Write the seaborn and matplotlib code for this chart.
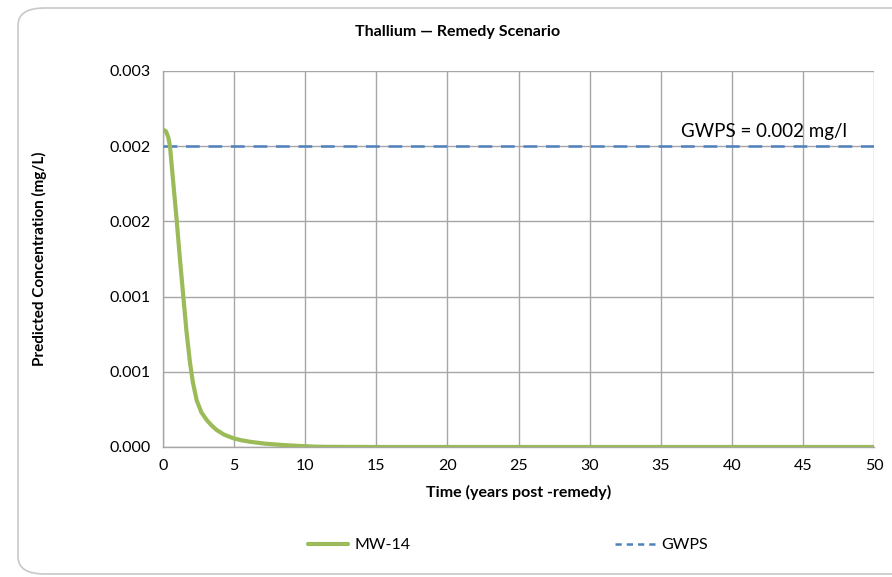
import matplotlib
matplotlib.use("Agg")
import matplotlib.pyplot as plt
import seaborn as sns
import pandas as pd
from matplotlib.patches import FancyBboxPatch
from matplotlib.lines import Line2D

# Data
years = [0.0, 0.2, 0.37, 0.49, 0.7, 0.96, 1.2, 1.43, 1.65, 1.9, 2.1, 2.37, 2.7, 3.07, 3.4, 3.77,
         4.3, 4.95, 5.5, 6.1, 7.2, 8.46, 9.6, 10.8, 11.5, 15, 20, 25, 30, 35, 40, 45, 50]
mw14 = [0.00211, 0.00210, 0.00206, 0.00200, 0.00178, 0.00151, 0.00124, 0.00100, 0.00077, 0.00056,
        0.00043, 0.00031, 0.00023, 0.00018, 0.000145, 0.000113, 0.000082, 0.000058, 0.000045,
        0.000035, 0.000022, 0.000013, 0.000007, 0.000002, 0.000001, 0.0, 0.0, 0.0, 0.0, 0.0, 0.0, 0.0, 0.0]
gwps_x = [0, 50]
gwps_y = [0.002, 0.002]
x_ticks = [0, 5, 10, 15, 20, 25, 30, 35, 40, 45, 50]
y_ticks = [0.0, 0.0005, 0.001, 0.0015, 0.002, 0.0025]
y_tick_labels = ["0.000", "0.001", "0.001", "0.002", "0.002", "0.003"]

sns.set_style("white")
plt.rcParams['font.family'] = ['Lato', 'DejaVu Sans']
plt.rcParams['text.color'] = 'black'
plt.rcParams['axes.labelcolor'] = 'black'
plt.rcParams['xtick.color'] = 'black'
plt.rcParams['ytick.color'] = 'black'

fig = plt.figure(figsize=(8.92, 5.77), dpi=100)
ax = fig.add_axes([163/892, 1 - 447/577, (874 - 163)/892, (447 - 71)/577])

# Rounded outer frame
frame = FancyBboxPatch((18/892, 3/577), 1.2, 1 - 11/577,
                       boxstyle="round,pad=0,rounding_size=0.03",
                       transform=fig.transFigure, fill=False,
                       edgecolor="#c8c8c8", linewidth=1.2, zorder=0)
fig.patches.append(frame)

green = "#9bbb59"
blue = "#4f81bd"

df_mw = pd.DataFrame({"t": years, "c": mw14})
df_g = pd.DataFrame({"t": gwps_x, "c": gwps_y})
sns.lineplot(data=df_mw, x="t", y="c", ax=ax, color=green, linewidth=3, zorder=4)
sns.lineplot(data=df_g, x="t", y="c", ax=ax, color=blue, linewidth=1.8,
             linestyle=(0, (5.5, 3.5)), zorder=3)

ax.set_xlim(0, 50)
ax.set_ylim(0, 0.0025)
ax.set_xticks(x_ticks)
ax.set_xticklabels([str(v) for v in x_ticks], fontsize=11.5)
ax.set_yticks(y_ticks)
ax.set_yticklabels(y_tick_labels, fontsize=11.5)
ax.grid(True, color="#a6a6a6", linewidth=1)
ax.set_axisbelow(True)
for s in ["top", "right"]:
    ax.spines[s].set_visible(False)
for s in ["left", "bottom"]:
    ax.spines[s].set_color("#a6a6a6")
    ax.spines[s].set_linewidth(1)
ax.tick_params(axis="both", direction="out", length=5, color="#a6a6a6", pad=4)

ax.set_xlabel("Time (years post -remedy)", fontsize=11.5, fontweight="bold", labelpad=8)
ax.set_ylabel("Predicted Concentration (mg/L)", fontsize=11, fontweight="bold")
ax.yaxis.set_label_coords(-(163 - 47)/711, 0.5)

fig.text(458/892, 1 - 32/577, "Thallium \u2014 Remedy Scenario", ha="center", va="center",
         fontsize=11.5, fontweight="bold")
ax.text(48.1, 0.00204, "GWPS = 0.002 mg/l", ha="right", va="bottom", fontsize=13.5)

handles = [Line2D([0], [0], color=green, linewidth=3),
           Line2D([0], [0], color=blue, linewidth=1.8, linestyle=(0, (2.5, 2)))]
fig.legend(handles, ["MW-14", "GWPS"], loc="center", bbox_to_anchor=(508/892, 1 - 545/577),
           ncol=2, frameon=False, fontsize=11.5, columnspacing=12.8, handlelength=2.5, handletextpad=0.4)

fig.savefig("out.png", dpi=100)
